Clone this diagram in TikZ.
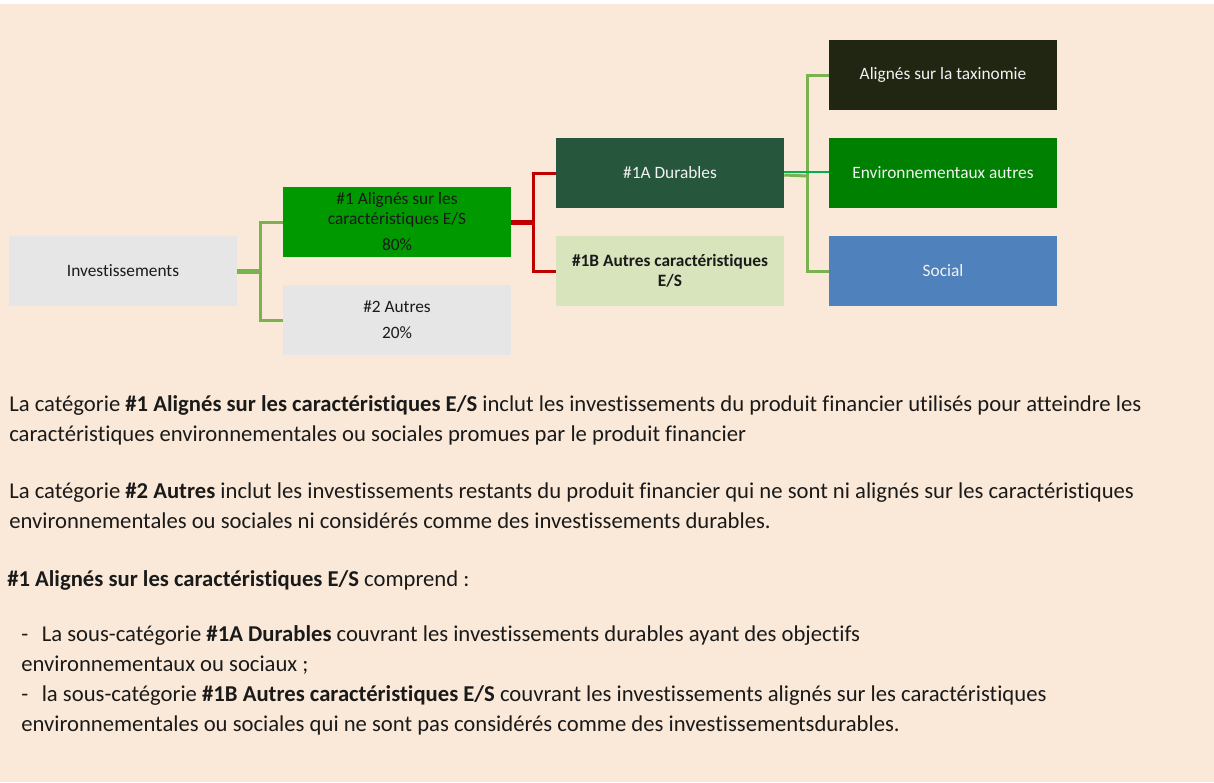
\documentclass[tikz,border=0pt]{standalone}
\usepackage{fontspec}
\setmainfont{Carlito}[Ligatures=NoCommon]
\usetikzlibrary{calc}
\definecolor{fond}{RGB}{250,233,216}
\definecolor{gris}{RGB}{230,230,230}
\definecolor{vertES}{RGB}{0,153,0}
\definecolor{vertDur}{RGB}{38,87,60}
\definecolor{vertPale}{RGB}{216,228,188}
\definecolor{olive}{RGB}{32,38,18}
\definecolor{vertEnv}{RGB}{0,128,0}
\definecolor{bleuSoc}{RGB}{79,129,189}
\definecolor{lienVert}{RGB}{122,178,80}
\definecolor{lienVif}{RGB}{0,176,80}
\definecolor{lienRouge}{RGB}{192,0,0}
\definecolor{encre}{RGB}{26,26,26}

\begin{document}
\begin{tikzpicture}[x=0.75pt,y=-0.75pt,
  boite/.style={minimum width=171pt, minimum height=52.5pt, inner sep=0pt, align=center,
    font=\fontsize{13}{15}\selectfont, text=encre},
  clair/.style={boite, text={rgb,255:red,242;green,242;blue,242}},
  lien/.style={lienVert, line width=2.25pt},
  corps/.style={anchor=base west, inner sep=0pt, align=left, text=encre,
    font=\fontsize{17}{22.5}\selectfont}]
\useasboundingbox (0,0) rectangle (1214,782);
\fill[white] (0,0) rectangle (1214,4);
\fill[fond] (0,4) rectangle (1214,782);

% boites
\node[boite, fill=gris] (inv) at (123,271) {Investissements};
\node[boite, fill=vertES] (al1) at (397,222) {\#1 Alignés sur les\\caractéristiques E/S\\[4.5pt]80\%};
\node[boite, fill=gris] (aut2) at (397,320) {\#2 Autres\\[4.5pt]20\%};
\node[clair, fill=vertDur] (dur) at (670,173) {\#1A Durables};
\node[boite, fill=vertPale, font=\fontsize{13}{15}\selectfont\bfseries] (aut1b) at (670,271) {\#1B Autres caractéristiques\\E/S};
\node[clair, fill=olive] (tax) at (943,75) {Alignés sur la taxinomie};
\node[clair, fill=vertEnv] (env) at (943,173) {Environnementaux autres};
\node[clair, fill=bleuSoc] (soc) at (943,271) {Social};

% liens
\coordinate (j1) at (260,271);
\coordinate (j2) at (533,222);
\coordinate (j3) at (807,174);
\draw[lien, line width=3.75pt] (inv.east) -- (j1);
\draw[lien] (al1.west) -| (j1) |- (aut2.west);
\draw[lienRouge, line width=3.75pt] (al1.east) -- (j2);
\draw[lienRouge, line width=2.25pt] (dur.west) -| (j2) |- (aut1b.west);
\draw[lien] (tax.west) -| (j3) |- (soc.west);
\draw[lien] ([yshift=-1.5pt]dur.east) -- ([yshift=-1.5pt]j3);
\draw[lienVif, line width=1.5pt] ([yshift=0.75pt]dur.east) -- ([yshift=0.75pt]env.west);

% textes (ancre sur la derniere ligne)
\node[corps] (p1) at (9,441) {La catégorie \textbf{\#1 Alignés sur les caractéristiques E/S} inclut les investissements du produit financier utilisés pour atteindre les\\
caractéristiques environnementales ou sociales promues par le produit financier};
\node[corps] (p2) at (9,528) {La catégorie \textbf{\#2 Autres} inclut les investissements restants du produit financier qui ne sont ni alignés sur les caractéristiques\\
environnementales ou sociales ni considérés comme des investissements durables.};
\node[corps] (p3) at (7,586) {\textbf{\#1 Alignés sur les caractéristiques E/S} comprend :};
\node[corps] (liste) at (21,731) {-\hspace{0.6em}La sous-catégorie \textbf{\#1A Durables} couvrant les investissements durables ayant des objectifs\\
environnementaux ou sociaux ;\\
-\hspace{0.6em}la sous-catégorie \textbf{\#1B Autres caractéristiques E/S} couvrant les investissements alignés sur les caractéristiques\\
environnementales ou sociales qui ne sont pas considérés comme des investissementsdurables.};
\end{tikzpicture}
\end{document}
